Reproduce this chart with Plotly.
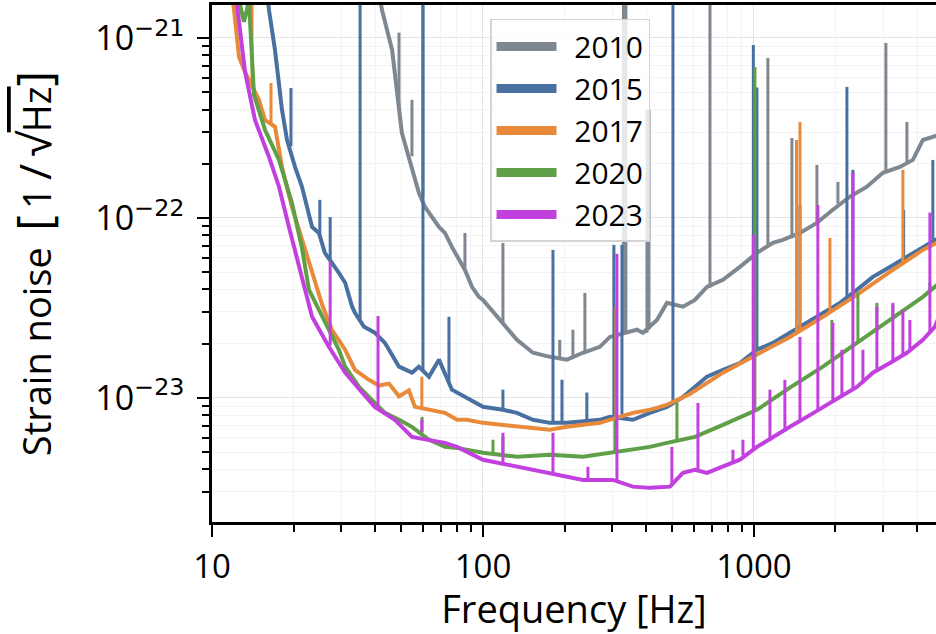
import plotly.graph_objects as go

# ---------------- data ----------------
years = ["2010", "2015", "2017", "2020", "2023"]
colors = ["#7f8891", "#4870a0", "#e88a3a", "#5f9f47", "#c241de"]

# 2010
f_2010 = [39.9, 42.4, 46.2, 50.2, 58.0, 61.1, 68.8, 72.4, 76.8, 85.8, 91.1, 96.6, 100, 115.6, 133.5,
          152.9, 176.7, 204.2, 233.9, 270, 294.2, 370.1, 389.4, 438.7, 477.5, 547, 605.8, 670.9, 768.6,
          888, 1026, 1175, 1279, 1479, 1708, 1956, 2261, 2612, 2992, 3457, 3861, 4204, 4575, 4857]
h_2010 = [2.4e-21, 1.43e-21, 8.58e-22, 2.97e-22, 1.38e-22, 1.15e-22, 8.91e-23, 8.25e-23, 6.90e-23, 5.14e-23,
          4.14e-23, 3.64e-23, 3.50e-23, 2.71e-23, 2.10e-23, 1.78e-23, 1.69e-23, 1.63e-23, 1.78e-23, 1.92e-23,
          2.18e-23, 2.39e-23, 2.30e-23, 2.71e-23, 3.37e-23, 3.21e-23, 3.50e-23, 4.14e-23, 4.53e-23, 5.34e-23,
          6.39e-23, 7.26e-23, 7.55e-23, 8.25e-23, 9.38e-23, 1.11e-22, 1.31e-22, 1.49e-22, 1.78e-22, 1.92e-22,
          2.10e-22, 2.71e-22, 2.82e-22, 2.90e-22]
spike_f_2010 = [49.0, 54.7, 60.05, 85.8, 118.5, 192, 214.8, 237.8, 330, 337, 403, 410, 688.2, 1126, 1381,
                1708, 2042, 3069, 3670]
spike_lo_2010 = [3.98e-22, 2.2e-22, 1.3e-22, 5.14e-23, 2.6e-23, 1.66e-23, 1.7e-23, 1.8e-23, 2.25e-23, 2.3e-23,
                 2.3e-23, 2.4e-23, 4.1e-23, 6.9e-23, 7.7e-23, 9.38e-23, 1.2e-22, 1.8e-22, 2.0e-22]
spike_hi_2010 = [1.07e-21, 4.53e-22, 3e-21, 8.25e-23, 7.26e-23, 2.10e-23, 2.39e-23, 3.83e-23, 3e-21, 3e-21,
                 3.98e-22, 3.98e-22, 3e-21, 7.74e-22, 2.78e-22, 1.97e-22, 1.585e-22, 9.38e-22, 3.41e-22]

# 2015
f_2015 = [15.69, 16.23, 17.08, 18.13, 18.92, 20.25, 21.48, 23.4, 24.8, 26.1, 29.4, 31.0, 32.9, 33.7, 36.4,
          39.9, 43.5, 49.0, 54.7, 58.0, 63.2, 68.8, 76.8, 80.2, 87.3, 100, 118.5, 133.5, 152.9, 176.7,
          204.2, 233.9, 270, 294.2, 357.6, 413.3, 477.5, 547, 605.8, 670.9, 768.6, 888, 1026, 1175, 1358,
          1569, 1797, 2077, 2399, 2749, 3176, 3670, 4204, 4654, 4857]
h_2015 = [2.4e-21, 1.43e-21, 8.58e-22, 3.98e-22, 2.71e-22, 1.92e-22, 1.49e-22, 8.91e-23, 8.25e-23, 6.39e-23,
          4.95e-23, 4.36e-23, 3.21e-23, 2.97e-23, 2.48e-23, 2.30e-23, 2.02e-23, 1.49e-23, 1.38e-23, 1.49e-23,
          1.31e-23, 1.63e-23, 1.11e-23, 1.07e-23, 1.01e-23, 8.91e-24, 8.58e-24, 8.25e-24, 7.55e-24, 7.26e-24,
          7.26e-24, 7.36e-24, 7.55e-24, 7.84e-24, 7.55e-24, 8.25e-24, 8.91e-24, 1.01e-23, 1.15e-23, 1.31e-23,
          1.43e-23, 1.56e-23, 1.85e-23, 2.02e-23, 2.30e-23, 2.61e-23, 2.97e-23, 3.37e-23, 3.98e-23, 4.70e-23,
          5.34e-23, 6.07e-23, 6.90e-23, 7.55e-23, 7.80e-23]
spike_f_2015 = [19.56, 25.0, 27.3, 35.2, 60.05, 74.9, 118.5, 181.3, 195.7, 241.8, 304.3, 325.8, 502.5, 995,
                1026, 1479, 2204, 2319, 3570, 4575]
spike_lo_2015 = [2.5e-22, 8.0e-23, 5.8e-23, 2.7e-23, 1.4e-23, 1.2e-23, 8.6e-24, 7.3e-24, 7.3e-24, 7.4e-24,
                 7.8e-24, 7.7e-24, 9.5e-24, 1.75e-23, 1.85e-23, 2.45e-23, 3.5e-23, 3.8e-23, 5.8e-23, 7.2e-23]
spike_hi_2015 = [5.27e-22, 1.26e-22, 1.01e-22, 3e-21, 3e-21, 2.82e-23, 1.11e-23, 6.64e-23, 1.26e-23, 1.07e-23,
                 7.08e-23, 7.08e-23, 3e-21, 9.14e-22, 5.3e-22, 1.18e-22, 5.34e-22, 1.85e-22, 1.11e-22, 2.10e-22]

# 2017
f_2017 = [11.46, 12.06, 12.58, 13.24, 14.9, 15.69, 17.08, 18.13, 19.73, 21.48, 23.4, 25.5, 27.7, 31.0, 33.7,
          37.96, 41.3, 45.0, 49.0, 53.3, 56.1, 63.2, 72.4, 80.2, 87.3, 100, 115.6, 133.5, 152.9, 176.7,
          204.2, 233.9, 270, 357.6, 413.3, 477.5, 547, 580.5, 768.6, 1026, 1358, 1797, 2399, 3176, 4204, 4857]
h_2017 = [2.4e-21, 1.43e-21, 7.84e-22, 6.47e-22, 4.53e-22, 3.50e-22, 3.21e-22, 1.92e-22, 1.15e-22, 7.55e-23,
          5.14e-23, 3.29e-23, 2.39e-23, 1.85e-23, 1.43e-23, 1.26e-23, 1.17e-23, 1.2e-23, 1.02e-23, 1.1e-23,
          8.91e-24, 8.58e-24, 8.25e-24, 7.55e-24, 7.55e-24, 7.26e-24, 7.08e-24, 6.90e-24, 6.81e-24, 6.64e-24,
          6.90e-24, 7.08e-24, 7.26e-24, 8.25e-24, 8.58e-24, 9.14e-24, 1.0e-23, 1.05e-23, 1.38e-23, 1.73e-23,
          2.18e-23, 2.82e-23, 3.73e-23, 5.01e-23, 6.64e-23, 7.40e-23]
spike_f_2017 = [14.05, 16.51, 59.5, 309.6, 1436, 1479, 1908, 3546]
spike_lo_2017 = [5.5e-22, 3.3e-22, 8.8e-24, 7.5e-24, 2.3e-23, 2.35e-23, 3.0e-23, 5.5e-23]
spike_hi_2017 = [3e-21, 5.62e-22, 1.31e-23, 3.21e-23, 2.71e-22, 3.41e-22, 7.74e-23, 1.85e-22]

# 2020
f_2020 = [11.85, 12.7, 13.12, 13.69, 14.29, 15.69, 17.67, 19.73, 21.48, 22.8, 26.1, 29.4, 31.0, 34.9, 38.9,
          43.5, 49.0, 54.7, 63.2, 72.4, 80.2, 87.3, 100, 133.5, 176.7, 233.9, 301.8, 357.6, 413.3, 477.5,
          547, 605.8, 768.6, 1026, 1358, 1797, 2399, 3176, 4204, 4654, 4857]
h_2020 = [2.4e-21, 1.52e-21, 1.23e-21, 1.6e-21, 4.82e-22, 3.08e-22, 2.10e-22, 1.21e-22, 6.8e-23, 3.98e-23,
          2.61e-23, 1.85e-23, 1.49e-23, 1.15e-23, 9.75e-24, 8.25e-24, 7.55e-24, 6.90e-24, 5.85e-24, 5.34e-24,
          5.27e-24, 5.14e-24, 4.95e-24, 4.70e-24, 4.82e-24, 4.70e-24, 4.95e-24, 5.14e-24, 5.34e-24, 5.62e-24,
          5.85e-24, 6.07e-24, 7.08e-24, 8.58e-24, 1.14e-23, 1.49e-23, 2.02e-23, 2.71e-23, 3.64e-23, 4.14e-23,
          4.36e-23]
spike_f_2020 = [59.6, 108.9, 118.5, 306.9, 519.9, 1008.6, 1940, 2420, 2844, 3257, 4461]
spike_lo_2020 = [6.4e-24, 4.9e-24, 4.85e-24, 4.95e-24, 5.7e-24, 8.6e-24, 1.65e-23, 2.05e-23, 2.35e-23, 2.8e-23, 3.9e-23]
spike_hi_2020 = [7.84e-24, 5.85e-24, 6.07e-24, 7.55e-24, 9.38e-24, 6.90e-22, 2.71e-23, 3.83e-23, 3.37e-23,
                 3.29e-23, 4.36e-23]

# 2023
f_2023 = [11.65, 12.37, 13.24, 14.41, 16.23, 17.67, 19.23, 20.94, 22.04, 23.4, 27.0, 31.0, 35.8, 39.9, 47.3,
          54.7, 72.4, 80.2, 100, 133.5, 176.7, 233.9, 301.8, 357.6, 413.3, 489.8, 547, 605.8, 670.9, 768.6,
          888, 1026, 1175, 1358, 1569, 1797, 2077, 2399, 2749, 3176, 3670, 4204, 4654, 4857]
h_2023 = [2.4e-21, 1.52e-21, 6.47e-22, 3.50e-22, 2.18e-22, 1.49e-22, 8.91e-23, 5.34e-23, 3.98e-23, 2.82e-23,
          1.92e-23, 1.38e-23, 1.07e-23, 8.91e-24, 7.55e-24, 6.07e-24, 5.62e-24, 5.34e-24, 4.53e-24, 4.14e-24,
          3.83e-24, 3.50e-24, 3.50e-24, 3.21e-24, 3.16e-24, 3.21e-24, 3.83e-24, 3.98e-24, 3.83e-24, 4.14e-24,
          4.53e-24, 5.34e-24, 6.07e-24, 6.90e-24, 7.84e-24, 8.91e-24, 1.01e-23, 1.15e-23, 1.38e-23, 1.56e-23,
          1.78e-23, 2.10e-23, 2.48e-23, 2.90e-23]
spike_f_2023 = [27.3, 41.0, 59.5, 118.5, 181.3, 244, 312.2, 498, 621.5, 836.8, 910.9, 995, 1146, 1301, 1479,
                1722, 1956, 2112, 2319, 2525, 2844, 3257, 3546, 3764, 4461]
spike_lo_2023 = [1.95e-23, 8.6e-24, 6.5e-24, 4.3e-24, 3.8e-24, 3.5e-24, 3.45e-24, 3.25e-24, 3.95e-24, 4.3e-24,
                 4.8e-24, 5.2e-24, 5.8e-24, 6.5e-24, 7.3e-24, 8.5e-24, 9.5e-24, 1.03e-23, 1.1e-23, 1.2e-23,
                 1.45e-23, 1.6e-23, 1.72e-23, 1.82e-23, 2.3e-23]
spike_hi_2023 = [5.70e-23, 2.85e-23, 7.55e-24, 6.39e-24, 6.39e-24, 4.14e-24, 6.31e-23, 5.34e-24, 9.38e-24,
                 5.14e-24, 5.85e-24, 8.04e-23, 1.11e-23, 1.26e-23, 2.18e-23, 1.18e-22, 2.61e-23, 1.85e-23,
                 1.78e-22, 1.85e-23, 3.21e-23, 3.37e-23, 3.08e-23, 2.71e-23, 1.07e-22]

x_tick_vals = [10, 100, 1000]
x_tick_text = ["10", "100", "1000"]
y_tick_vals = [1e-23, 1e-22, 1e-21]
y_exponents = ["−23", "−22", "−21"]

series = [
    (f_2010, h_2010, spike_f_2010, spike_lo_2010, spike_hi_2010),
    (f_2015, h_2015, spike_f_2015, spike_lo_2015, spike_hi_2015),
    (f_2017, h_2017, spike_f_2017, spike_lo_2017, spike_hi_2017),
    (f_2020, h_2020, spike_f_2020, spike_lo_2020, spike_hi_2020),
    (f_2023, h_2023, spike_f_2023, spike_lo_2023, spike_hi_2023),
]

# ---------------- figure ----------------
fig = go.Figure()
for (year, color, (f, h, sf, slo, shi)) in zip(years, colors, series):
    fig.add_trace(go.Scatter(x=f, y=h, mode="lines", line=dict(color=color, width=4),
                             showlegend=False, hoverinfo="skip"))
    xs, ys = [], []
    for a, lo, hi in zip(sf, slo, shi):
        xs += [a, a, None]
        ys += [lo, hi, None]
    fig.add_trace(go.Scatter(x=xs, y=ys, mode="lines", line=dict(color=color, width=3),
                             showlegend=False, hoverinfo="skip"))

for year, color in zip(years, colors):
    fig.add_trace(go.Scatter(x=[None], y=[None], mode="lines", name="\u00a0\u2009" + year,
                             line=dict(color=color, width=9)))

axis_common = dict(
    type="log", ticks="outside", ticklen=12, tickwidth=2, tickcolor="black",
    showline=True, linecolor="black", linewidth=2.5,
    showgrid=True, gridcolor="#e4e4e4", gridwidth=1, zeroline=False,
    minor=dict(dtick="D1", ticks="outside", ticklen=7, tickwidth=1.5, tickcolor="black",
               showgrid=True, gridcolor="#f3f3f3", gridwidth=1),
)

y_tick_text = ["10<sup><span style='font-family:DejaVu Sans'>%s</span></sup>" % e for e in y_exponents]

y_title = ("Strain noise \u2009<span style='font-size:48px'>[</span>\u20091"
           "<span style='font-size:44px'>\u2009/\u2009√</span>"
           "<span style='text-decoration:overline'>Hz</span>"
           "<span style='font-size:48px'>]</span>")

fig.update_xaxes(**axis_common, range=[1, 3.672], tickmode="array",
                 tickvals=x_tick_vals, ticktext=x_tick_text, mirror=True,
                 tickfont=dict(size=33, color="black"), ticklabelstandoff=2,
                 title=dict(text="Frequency [Hz]", font=dict(size=38), standoff=16))
fig.update_yaxes(**axis_common, range=[-23.69, -20.817], tickmode="array",
                 tickvals=y_tick_vals, ticktext=y_tick_text, mirror=False,
                 tickfont=dict(size=34, color="black"), ticklabelstandoff=6,
                 title=dict(text=y_title, font=dict(size=38), standoff=34))

fig.update_layout(
    width=936, height=634,
    margin=dict(l=212, r=0, t=5, b=112, autoexpand=False),
    paper_bgcolor="white", plot_bgcolor="white",
    font=dict(family="Open Sans", color="black", size=34),
    legend=dict(x=0.384, y=0.973, xanchor="left", yanchor="top",
                bgcolor="rgba(255,255,255,0.8)", bordercolor="#d4d4d4", borderwidth=1.5,
                font=dict(size=30, color="black"), itemwidth=60, tracegroupgap=0),
)

fig.write_html("out.html")
